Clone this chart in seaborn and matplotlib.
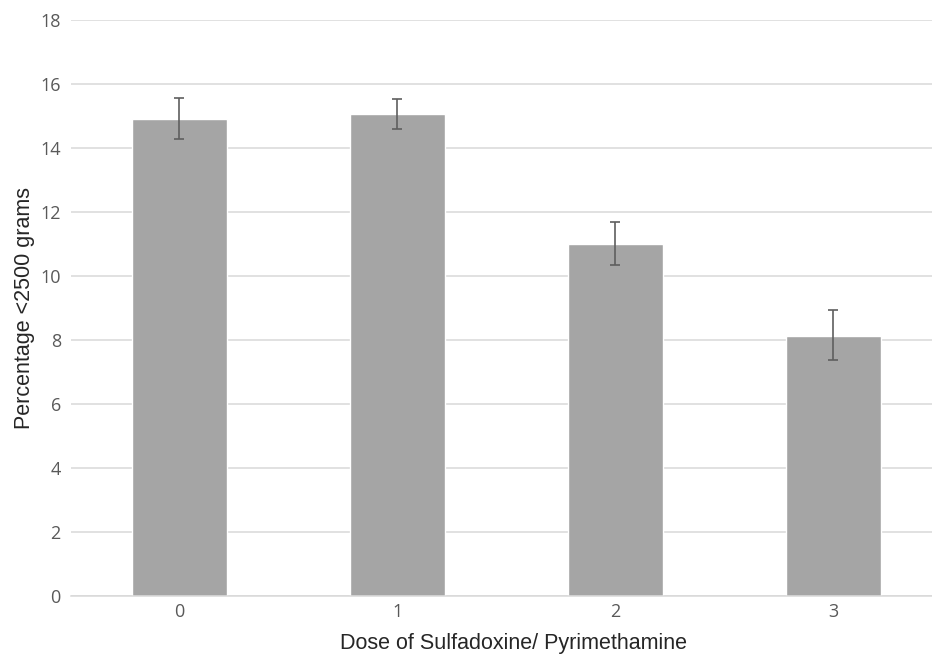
import matplotlib
matplotlib.use("Agg")
import matplotlib.pyplot as plt
import seaborn as sns
import pandas as pd
import numpy as np

doses = ["0", "1", "2", "3"]
values = [14.91, 15.07, 11.01, 8.11]
err_low = [14.28, 14.60, 10.35, 7.37]
err_high = [15.56, 15.54, 11.70, 8.93]
yticks = [0, 2, 4, 6, 8, 10, 12, 14, 16, 18]

sns.set_theme(style="white")
plt.rcParams['font.family'] = ['Open Sans', 'DejaVu Sans']

df = pd.DataFrame({"dose": doses, "pct": values})

fig = plt.figure(figsize=(9.32, 6.54), dpi=100)
W, H = 932, 654
ax = fig.add_axes([70.5 / W, (H - 596) / H, (932 - 70.5) / W, (596 - 20) / H])

sns.barplot(data=df, x="dose", y="pct", order=doses, color="#A5A5A5",
            saturation=1, width=0.44, errorbar=None, ax=ax, zorder=2)

vals = np.array(values)
yerr = np.array([vals - np.array(err_low), np.array(err_high) - vals])
ax.errorbar(np.arange(len(doses)), vals, yerr=yerr, fmt="none",
            ecolor="#5F5F5F", elinewidth=1.2, capsize=3.5, capthick=1.2, zorder=3)

ax.set_xlim(-0.5, 3.452)
ax.set_ylim(0, 18)
ax.set_yticks(yticks)
ax.yaxis.grid(True, color="#D9D9D9", linewidth=1.1, zorder=0)
ax.set_axisbelow(True)
for s in ["top", "right", "left"]:
    ax.spines[s].set_visible(False)
ax.spines["bottom"].set_color("#D9D9D9")
ax.spines["bottom"].set_linewidth(1.1)

ax.tick_params(axis="both", which="both", length=0, colors="#595959", labelsize=13)
ax.tick_params(axis="y", pad=7)
ax.tick_params(axis="x", pad=5)

ax.set_xlabel("Dose of Sulfadoxine/ Pyrimethamine", fontsize=15.5,
              family=["Liberation Sans"], color="#262626", labelpad=9)
ax.set_ylabel("Percentage <2500 grams", fontsize=15.5,
              family=["Liberation Sans"], color="#262626", labelpad=4)
ax.xaxis.label.set_x(0.514)

fig.savefig("out.png", dpi=100)
